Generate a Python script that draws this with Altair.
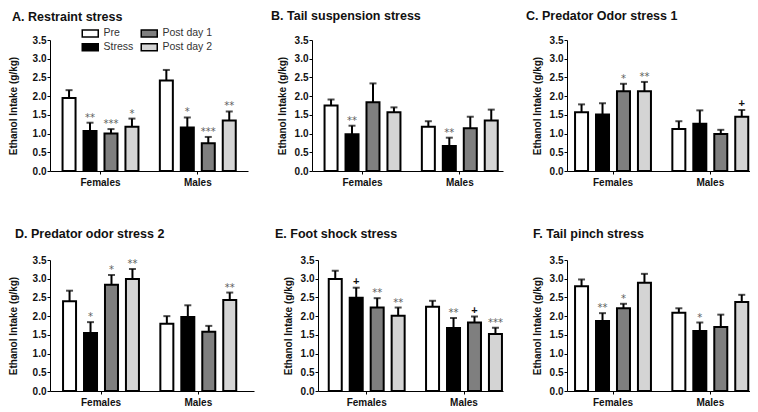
import altair as alt
import pandas as pd

FONT = "Liberation Sans"

conditions = ["Pre", "Stress", "Post day 1", "Post day 2"]
sexes = ["Females", "Males"]
fills = ["#ffffff", "#000000", "#7f7f7f", "#d4d4d4"]
y_ticks = [0.0, 0.5, 1.0, 1.5, 2.0, 2.5, 3.0, 3.5]

titles = [
    "A. Restraint stress",
    "B. Tail suspension stress",
    "C. Predator Odor stress 1",
    "D. Predator odor stress 2",
    "E. Foot shock stress",
    "F. Tail pinch stress",
]

# order: Females (Pre, Stress, Post day 1, Post day 2), Males (same)
a_mean = [1.95, 1.07, 1.00, 1.18, 2.42, 1.16, 0.74, 1.35]
a_sem = [0.21, 0.22, 0.12, 0.22, 0.28, 0.27, 0.17, 0.24]
a_sig = ["", "**", "***", "*", "", "*", "***", "**"]

b_mean = [1.75, 0.98, 1.84, 1.57, 1.18, 0.67, 1.14, 1.35]
b_sem = [0.16, 0.23, 0.50, 0.13, 0.15, 0.22, 0.31, 0.29]
b_sig = ["", "**", "", "", "", "**", "", ""]

c_mean = [1.57, 1.51, 2.13, 2.13, 1.12, 1.26, 0.99, 1.45]
c_sem = [0.21, 0.30, 0.20, 0.25, 0.21, 0.36, 0.11, 0.18]
c_sig = ["", "", "*", "**", "", "", "", "+"]

d_mean = [2.40, 1.55, 2.84, 2.99, 1.80, 1.98, 1.58, 2.43]
d_sem = [0.28, 0.29, 0.26, 0.27, 0.20, 0.31, 0.16, 0.20]
d_sig = ["", "*", "*", "**", "", "", "", "**"]

e_mean = [2.99, 2.49, 2.23, 2.01, 2.25, 1.68, 1.83, 1.52]
e_sem = [0.22, 0.27, 0.25, 0.22, 0.16, 0.27, 0.16, 0.17]
e_sig = ["", "+", "**", "**", "", "**", "+", "***"]

f_mean = [2.80, 1.87, 2.21, 2.89, 2.09, 1.60, 1.71, 2.38]
f_sem = [0.18, 0.21, 0.12, 0.24, 0.12, 0.23, 0.33, 0.19]
f_sig = ["", "**", "*", "", "", "*", "", ""]


def panel(title, means, sems, sigs, width, left, title_dx, title_pad, title_offset,
          legend=False):
    rows = []
    for i, (m, s, g) in enumerate(zip(means, sems, sigs)):
        rows.append({"sex": sexes[i // 4], "cond": conditions[i % 4],
                     "mean": m, "upper": round(m + s, 3), "sig": g})
    df = pd.DataFrame(rows)

    step, bw = 97.3, 78.0
    p_in = 1 - bw / step
    extra = width - step * (2 - p_in)
    p_out = extra / (2 * step)
    al = min(1.0, max(0.0, left / extra))

    xscale = alt.Scale(paddingInner=p_in, paddingOuter=p_out, align=al)
    x_axis = alt.Axis(title=None, labelAngle=0, labelFont=FONT, labelFontSize=10,
                      labelFontWeight="bold", labelColor="#111", domainColor="#000",
                      tickColor="#000", tickSize=3, labelPadding=3, grid=False)
    x = alt.X("sex:N", sort=sexes, scale=xscale, axis=x_axis)
    xo = alt.XOffset("cond:N", sort=conditions,
                     scale=alt.Scale(paddingInner=0.38, paddingOuter=0.05))
    yscale = alt.Scale(domain=[0, 3.5], nice=False, zero=True)
    y_axis = alt.Axis(values=y_ticks, format=".1f", title="Ethanol Intake (g/kg)",
                      titleFont=FONT, titleFontSize=10, titleFontWeight="bold",
                      titleColor="#111", titlePadding=title_pad,
                      labelFont=FONT, labelFontSize=10, labelFontWeight="bold",
                      labelColor="#111", labelPadding=1, tickSize=3,
                      tickColor="#000", domainColor="#000", grid=False)
    if legend:
        leg = alt.Legend(title=None, orient="none", legendX=35, legendY=-12,
                         columns=2, columnPadding=4, rowPadding=0,
                         symbolType="M-2,-0.875H2V0.875H-2Z", symbolSize=64,
                         symbolStrokeColor="black", symbolStrokeWidth=1.5,
                         labelFont=FONT, labelFontSize=10.5, labelColor="#333",
                         labelOffset=8, padding=0)
    else:
        leg = None
    fill = alt.Fill("cond:N", scale=alt.Scale(domain=conditions, range=fills),
                    legend=leg)

    y_mean = alt.Y("mean:Q", scale=yscale, axis=y_axis)
    y_up = alt.Y("upper:Q", scale=yscale, axis=y_axis)

    base = alt.Chart(df)
    bars = base.mark_bar(stroke="black", strokeWidth=2).encode(
        x=x, xOffset=xo, y=y_mean, fill=fill)
    err = base.mark_rule(color="black", strokeWidth=2).encode(
        x=x, xOffset=xo, y=y_mean, y2="upper:Q")
    caps = base.mark_tick(color="black", thickness=2, size=7).encode(
        x=x, xOffset=xo, y=y_up)
    stars = base.transform_filter(alt.datum.sig != "+").mark_text(
        font="DejaVu Sans", fontSize=10, color="#5e5e5e", baseline="alphabetic", dy=-2
    ).encode(x=x, xOffset=xo, y=y_up, text="sig:N")
    plus = base.transform_filter(alt.datum.sig == "+").mark_text(
        font=FONT, fontSize=11, fontWeight="bold", color="#111",
        baseline="alphabetic", dy=-3
    ).encode(x=x, xOffset=xo, y=y_up, text="sig:N")

    return alt.layer(bars, err, caps, stars, plus).properties(
        width=width, height=131,
        title=alt.TitleParams(text=title, anchor="start", frame="group", dx=title_dx,
                              offset=title_offset, font=FONT, fontSize=12.5,
                              fontWeight="bold", color="#111"),
    )


pA = panel(titles[0], a_mean, a_sem, a_sig, 198, 11.5, -38, 14, 5, legend=True)
pB = panel(titles[1], b_mean, b_sem, b_sig, 191, 11.5, -41, 7, 13)
pC = panel(titles[2], c_mean, c_sem, c_sig, 183, 7, -41, 7, 13)
pD = panel(titles[3], d_mean, d_sem, d_sig, 204, 12, -35, 14, 15)
pE = panel(titles[4], e_mean, e_sem, e_sig, 185, 10, -43, 7, 15)
pF = panel(titles[5], f_mean, f_sem, f_sig, 183, 7, -34, 7, 15)

res = dict(x="independent", y="independent", fill="independent", xOffset="independent")
row1 = alt.hconcat(pA, pB, pC, spacing=64, bounds="flush").resolve_scale(**res).resolve_legend(fill="independent")
row2 = alt.hconcat(pD, pE, pF, spacing=64, bounds="flush").resolve_scale(**res).resolve_legend(fill="independent")

chart = alt.vconcat(row1, row2, spacing=40).resolve_scale(**res).resolve_legend(
    fill="independent"
).properties(
    padding={"left": 0, "top": 1, "right": 0, "bottom": 0},
    background="white",
).configure_view(stroke=None)

chart.save("out.html", embed_options={"renderer": "svg", "actions": False})
